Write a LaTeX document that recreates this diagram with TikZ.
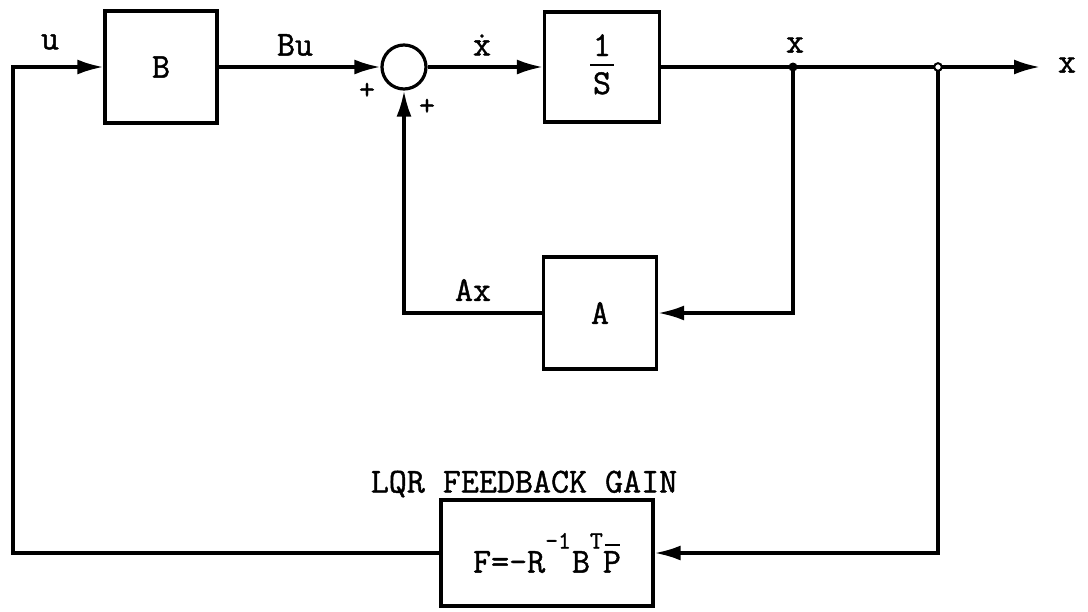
\documentclass[tikz,border=0pt]{standalone}
\usepackage{fontspec}
\setmonofont{Latin Modern Mono}[FakeBold=1.2]
\usetikzlibrary{arrows.meta}
\begin{document}
\begin{tikzpicture}[x=1pt,y=-1pt,
  every node/.style={font=\fontsize{35}{40}\selectfont\ttfamily},
  blk/.style={draw,line width=3.2pt,inner sep=0pt},
  sumc/.style={draw,circle,line width=3.2pt,minimum size=44pt,inner sep=0pt},
  wire/.style={line width=3.2pt},
  arr/.style={wire,-{Latex[length=26pt,width=15pt]}},
  lbl/.style={inner sep=0pt},
  pls/.style={inner sep=0pt,font=\fontsize{31}{34}\selectfont\ttfamily}]
\useasboundingbox (0,0) rectangle (1088,611);
% blocks
\node[blk,minimum width=112pt,minimum height=112pt] (B) at (161,67) {B};
\node[sumc] (S) at (404,67) {};
\node[blk,minimum width=115pt,minimum height=110pt] (I) at (602,67)
  {\raisebox{-6pt}{\begin{tabular}{@{}c@{}}1\\[-30pt]\rule{24pt}{2pt}\\[-12pt]S\end{tabular}}};
\node[blk,minimum width=113pt,minimum height=112pt] (A) at (600,313) {A};
\node[blk,minimum width=212pt,minimum height=106pt] (F) at (547,553)
  {\raisebox{-8pt}{F=-R\raisebox{24pt}{\fontsize{25}{28}\selectfont -1}\kern1pt B\raisebox{24pt}{\fontsize{25}{28}\selectfont T}\makebox[0pt][l]{\kern2pt\raisebox{27pt}{\rule{15pt}{1.8pt}}}P}};
% junctions and free ends
\coordinate (J1) at (793,67);
\coordinate (J2) at (938,67);
\coordinate (L) at (13,67);
\coordinate (Xo) at (1040,67);
% labels
\node[lbl] (lu) at (50,42) {u};
\node[lbl] (lBu) at (295,45) {Bu};
\node[lbl] (lxd) at (482,45) {\.{x}};
\node[lbl] (lx) at (795,45) {x};
\node[lbl] (lxo) at (1067,65) {x};
\node[pls] (p1) at (367,91) {+};
\node[pls] (p2) at (427,107) {+};
\node[lbl] (lAx) at (473,290) {Ax};
\node[lbl] (lLQR) at (524,484) {LQR FEEDBACK GAIN};
% connectors
\draw[arr] (F.west) -| (L) -- (B.west);
\draw[arr] (B.east) -- (S.west);
\draw[arr] (S.east) -- (I.west);
\draw[wire] (I.east) -- (J1) -- (J2);
\draw[arr] (J2) -- (Xo);
\draw[arr] (J1) |- (A.east);
\draw[arr] (A.west) -| (S.south);
\draw[arr] (J2) |- (F.east);
\fill (J1) circle (4.5pt);
\draw[line width=2pt,fill=white] (J2) circle (3.8pt);
\end{tikzpicture}
\end{document}
